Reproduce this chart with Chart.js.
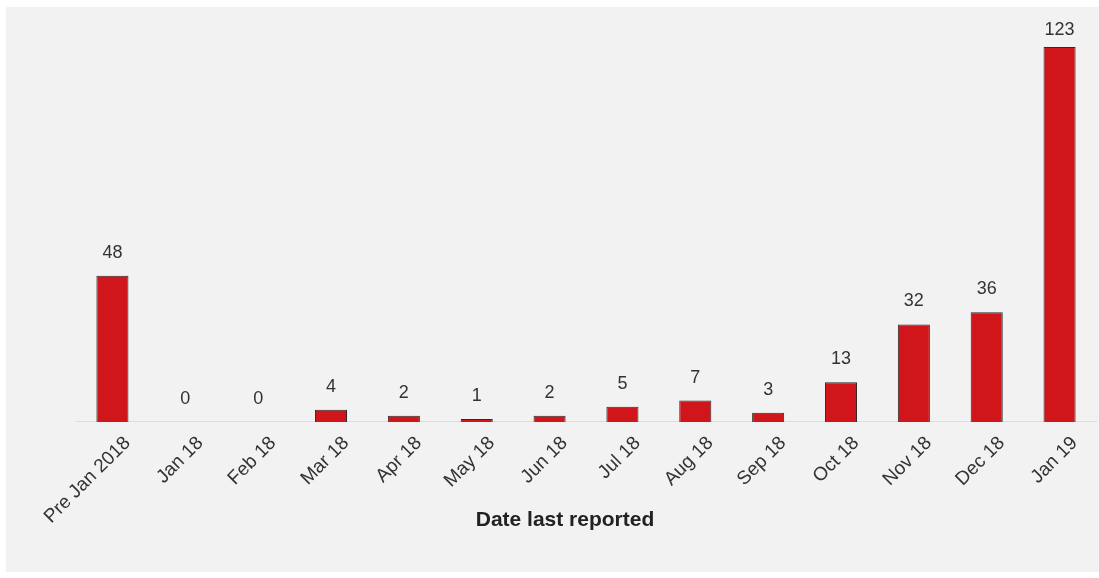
<!DOCTYPE html>
<html>
<head>
<meta charset="utf-8">
<script src="https://cdn.jsdelivr.net/npm/chart.js@4/dist/chart.umd.min.js"></script>
<style>
    html, body { margin: 0; padding: 0; background: #ffffff; }
    #panel {
        position: absolute; left: 6px; top: 7px; width: 1093px; height: 565px;
        background: #f2f2f2;
    }
    #axisTitle {
        position: absolute; left: 559px; top: 500px; transform: translateX(-50%);
        font-family: "Liberation Sans", Arial, sans-serif; font-weight: bold;
        font-size: 21px; color: #222; white-space: nowrap;
    }
</style>
</head>
<body>
<div id="panel">
    <canvas id="reportedChart" width="1093" height="565"></canvas>
    <div id="axisTitle">Date last reported</div>
</div>
<script>
    // Chart data
    const categories = ['Pre Jan 2018', 'Jan 18', 'Feb 18', 'Mar 18', 'Apr 18', 'May 18', 'Jun 18',
        'Jul 18', 'Aug 18', 'Sep 18', 'Oct 18', 'Nov 18', 'Dec 18', 'Jan 19'];
    const counts = [48, 0, 0, 4, 2, 1, 2, 5, 7, 3, 13, 32, 36, 123];

    // Draws the value above each bar (kept inside the canvas for the tallest bar)
    const valueLabels = {
        id: 'valueLabels',
        afterDatasetsDraw(chart) {
            const ctx = chart.ctx;
            const meta = chart.getDatasetMeta(0);
            ctx.save();
            ctx.font = '18px "Liberation Sans", Arial, sans-serif';
            ctx.fillStyle = '#333333';
            ctx.textAlign = 'center';
            ctx.textBaseline = 'middle';
            meta.data.forEach(function (bar, i) {
                ctx.fillText(String(counts[i]), bar.x, Math.max(bar.y - 23, 23));
            });
            ctx.restore();
        }
    };

    const ctx = document.getElementById('reportedChart').getContext('2d');
    new Chart(ctx, {
        type: 'bar',
        data: {
            labels: categories,
            datasets: [{
                data: counts,
                backgroundColor: '#d0161b',
                borderColor: '#2b2b2b',
                borderWidth: 1,
                barPercentage: 0.44,
                categoryPercentage: 1
            }]
        },
        options: {
            responsive: false,
            animation: false,
            layout: {
                padding: { left: 70, right: 3, top: 40, bottom: 34 }
            },
            plugins: {
                legend: { display: false },
                tooltip: { enabled: false }
            },
            scales: {
                x: {
                    grid: { drawOnChartArea: false, drawTicks: false },
                    border: { display: true, color: '#dcdcdc', width: 1 },
                    ticks: {
                        minRotation: 45,
                        maxRotation: 45,
                        padding: 10,
                        labelOffset: 15,
                        color: '#333333',
                        font: { family: '"Liberation Sans", Arial, sans-serif', size: 19 }
                    }
                },
                y: {
                    display: false,
                    min: 0,
                    max: 123
                }
            }
        },
        plugins: [valueLabels]
    });
</script>
</body>
</html>
